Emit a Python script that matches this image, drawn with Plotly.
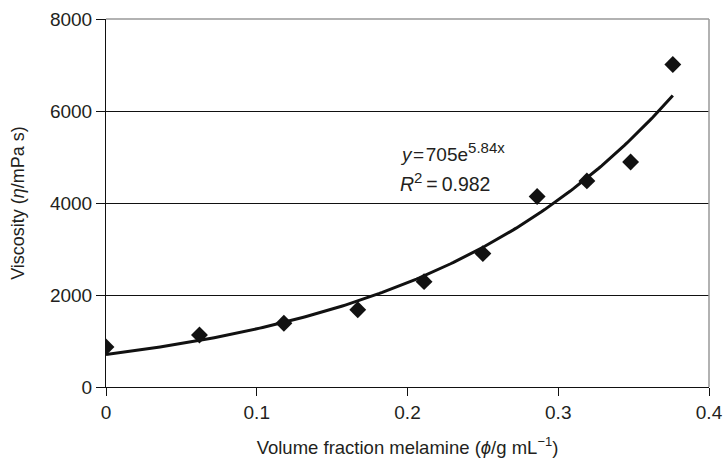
import numpy as np
import plotly.graph_objects as go

# Data
volume_fraction = [0.0, 0.062, 0.118, 0.167, 0.211, 0.250, 0.286, 0.319, 0.348, 0.376]
viscosity = [870, 1130, 1385, 1680, 2290, 2900, 4140, 4480, 4890, 7010]

# Exponential trendline parameters (as stated on chart)
fit_a = 705
fit_b = 5.84

x_ticks = [0, 0.1, 0.2, 0.3, 0.4]
x_tick_text = ["0", "0.1", "0.2", "0.3", "0.4"]
y_ticks = [0, 2000, 4000, 6000, 8000]
y_tick_text = ["0", "2000", "4000", "6000", "8000"]

TXT = "#231f20"
FONT = "Liberation Sans, Arial, sans-serif"

xs = np.linspace(min(volume_fraction), max(volume_fraction), 200)
ys = fit_a * np.exp(fit_b * xs)

fig = go.Figure()
fig.add_trace(go.Scatter(x=xs, y=ys, mode="lines",
                         line=dict(color="#111111", width=3), showlegend=False,
                         hoverinfo="skip"))
fig.add_trace(go.Scatter(x=volume_fraction, y=viscosity, mode="markers",
                         marker=dict(symbol="diamond", size=13, color="#111111"),
                         showlegend=False))

fig.update_layout(
    width=725, height=461,
    margin=dict(l=106, r=16, t=19, b=74),
    paper_bgcolor="white", plot_bgcolor="white",
    font=dict(family=FONT, size=18, color=TXT),
    xaxis=dict(range=[0, 0.4], tickvals=x_ticks, ticktext=x_tick_text,
               showgrid=False, zeroline=False, showline=True, linecolor="#111111",
               linewidth=1, ticks="outside", ticklen=8, tickcolor="#111111",
               tickfont=dict(size=19, color=TXT), automargin=False,
               title=dict(text="Volume fraction melamine (<i>ϕ</i>/g mL<sup>−1</sup>)",
                          font=dict(size=18.5, color=TXT), standoff=19)),
    yaxis=dict(range=[0, 8000], tickvals=y_ticks, ticktext=y_tick_text,
               showgrid=True, gridcolor="#111111", gridwidth=1,
               zeroline=False, showline=True, linecolor="#111111",
               linewidth=1, ticks="outside", ticklen=9, tickcolor="#111111",
               tickfont=dict(size=19, color=TXT), automargin=False,
               title=dict(text="Viscosity (<i>η</i>/mPa s)",
                          font=dict(size=18, color=TXT), standoff=20)),
)

# gray frame on top and right
fig.add_shape(type="line", xref="paper", yref="paper", x0=0, x1=1, y0=1, y1=1,
              line=dict(color="#999999", width=1.5), layer="above")
fig.add_shape(type="line", xref="paper", yref="paper", x0=1, x1=1, y0=0, y1=1,
              line=dict(color="#999999", width=1.5), layer="above")

fig.add_annotation(x=0.1937, y=5110, xref="x", yref="y", xanchor="left", yanchor="middle",
                   text="<i>y</i>\u200a=\u200a705e<sup><span style='font-size:15px'>5.84x</span></sup>",
                   showarrow=False, font=dict(size=19, color=TXT))
fig.add_annotation(x=0.1937, y=4450, xref="x", yref="y", xanchor="left", yanchor="middle",
                   text="<i>R</i><sup><span style='font-size:15px'>2</span></sup>\u2009=\u20090.982",
                   showarrow=False, font=dict(size=19.5, color=TXT))

fig.write_html("out.html", post_script="document.body.style.margin='0';",
               config={"displayModeBar": False})
